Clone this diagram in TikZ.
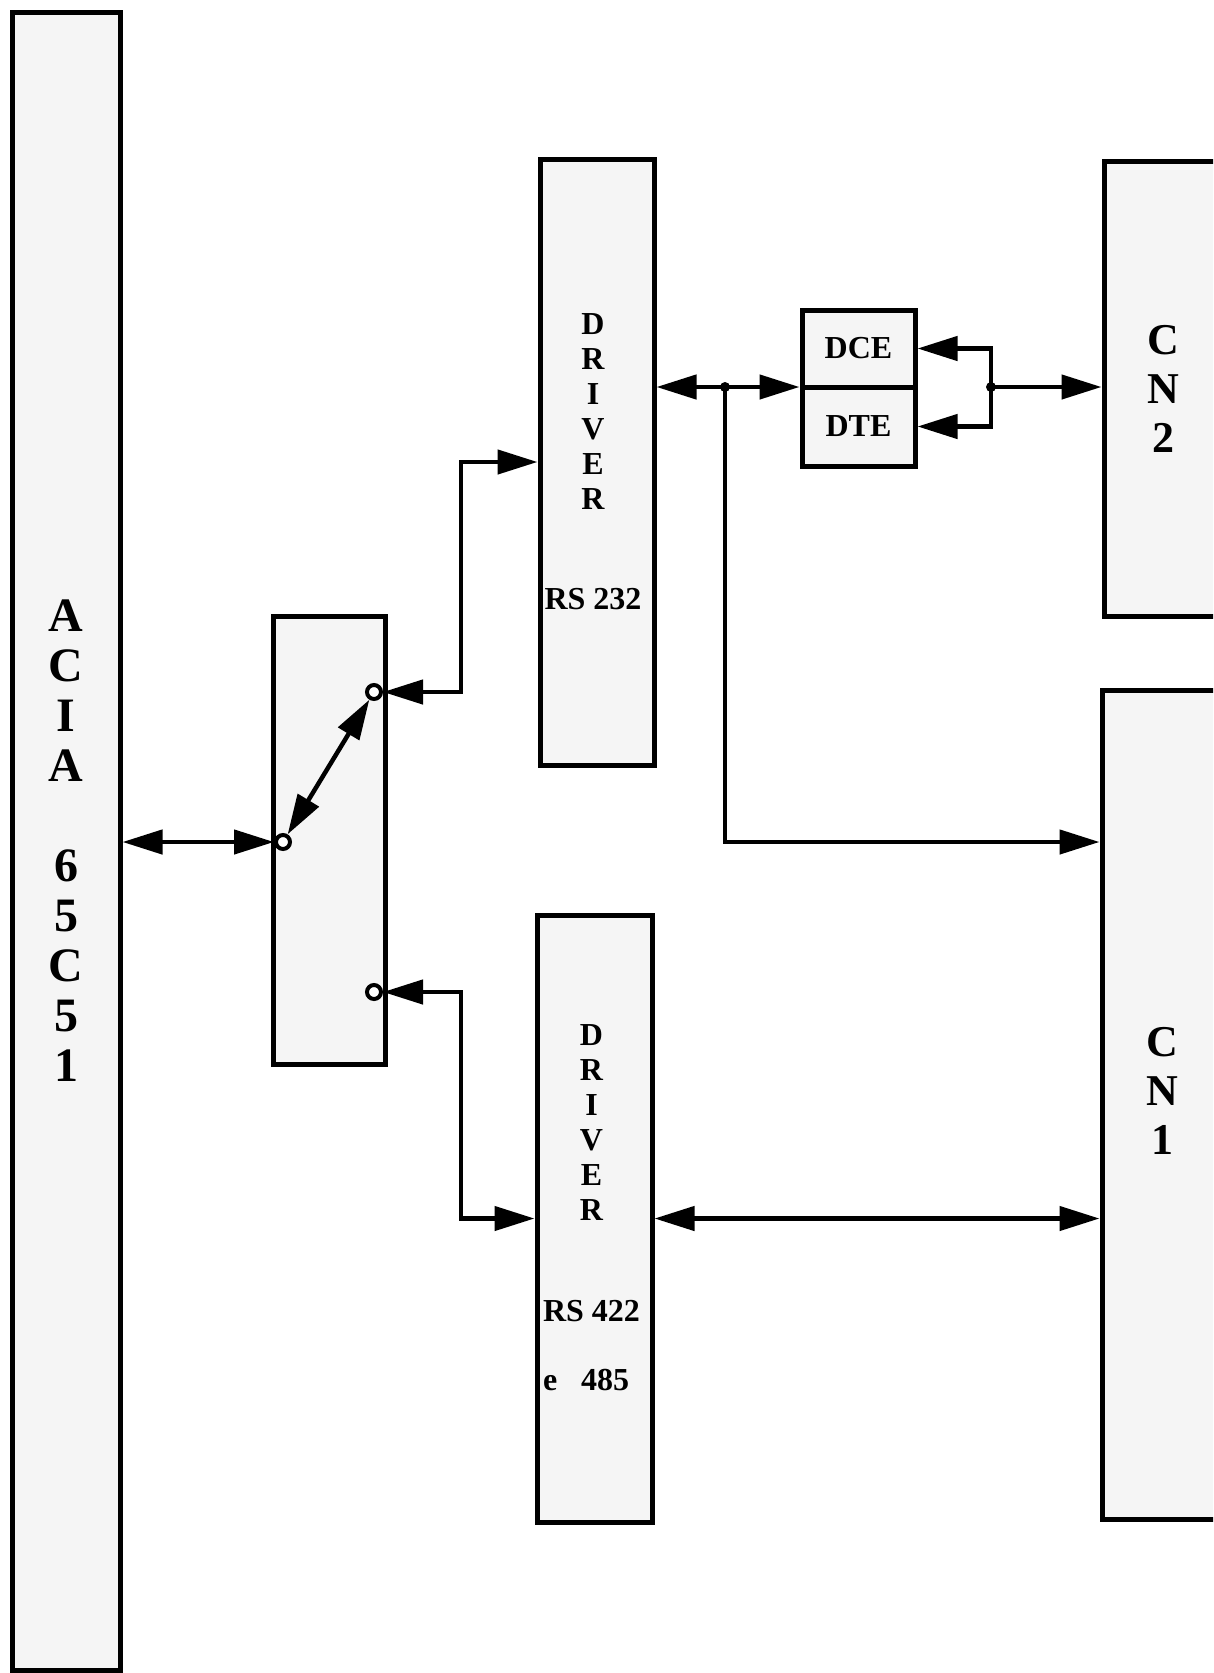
\documentclass[tikz,border=0pt]{standalone}
\usepackage{fontspec}
\setmainfont{Liberation Serif}
\usetikzlibrary{arrows.meta, positioning}

\begin{document}
\begin{tikzpicture}[
    x=1pt, y=-1pt,
    box/.style={
        draw, rectangle, fill=black!4,
        align=center, inner sep=0pt,
        line width=5pt
    },
    txtA/.style={font=\fontsize{32}{35}\selectfont\bfseries, align=center},
    txtB/.style={font=\fontsize{48}{50}\selectfont\bfseries},
    txtC/.style={font=\fontsize{44}{49}\selectfont\bfseries},
    contact/.style={
        draw, circle, fill=white, line width=4pt,
        minimum size=14pt, inner sep=0pt
    },
    arrow/.style={
        -{Triangle[length=40pt, width=24pt]},
        line width=4.5pt
    },
    dblarrow/.style={
        {Triangle[length=40pt, width=24pt]}-{Triangle[length=40pt, width=24pt]},
        line width=4.5pt
    }
]
\clip (0,0) rectangle (1213,1673);

% blocks
\node[box, txtB, minimum width=108pt, minimum height=1658pt] (acia) at (66,841)
    {A\\C\\I\\A\\[50pt]6\\5\\C\\5\\1};
\node[box, minimum width=112pt, minimum height=448pt] (sw) at (329,840) {};

\node[box, minimum width=114pt, minimum height=606pt] (drvA) at (597,462) {};
\node[txtA] at ([xshift=-4pt]drvA.center)
    {D\\R\\I\\V\\E\\R\\[65pt]RS 232};
\node[box, minimum width=115pt, minimum height=607pt] (drvB) at (594.5,1218.5) {};
\node[txtA] at ([xshift=-3pt, yshift=11pt]drvB.center)
    {D\\R\\I\\V\\E\\R\\[66pt]RS 422\\[34pt]\makebox[97pt][l]{e\hspace{24pt}485}};

\node[box, txtA, minimum width=113pt, minimum height=77pt] (dce) at (858.5,348.5) {DCE};
\node[box, txtA, minimum width=113pt, minimum height=79pt] (dte) at (858.5,426.5) {DTE};

\node[box, txtC, minimum width=118pt, minimum height=455pt] (cn2) at (1163,388.5)
    {C\\N\\2};
\node[box, minimum width=120pt, minimum height=829pt] (cn1) at (1162,1104.5) {};
\node[txtC, align=center] at ([yshift=14pt]cn1.center) {C\\N\\1};

% switch contacts
\node[contact] (pT) at (374,692) {};
\node[contact] (pL) at (283,842) {};
\node[contact] (pB) at (374,992) {};

% junctions and corners
\coordinate (kA) at (461,462);
\coordinate (kB) at (461,1218.5);
\coordinate (jA) at (725,387);
\coordinate (jB) at (991,387);

% connectors
\draw[dblarrow] (acia.east |- pL) -- (pL);
\draw[dblarrow] (pL) -- (pT);
\draw[dblarrow] (pT) -| (kA) -- (drvA.west);
\draw[dblarrow] (pB) -| (kB) -- (drvB.west);

\draw[dblarrow] (drvA.east |- jA) -- (dce.west |- jA);
\draw[arrow] (jA) |- (cn1.west |- pL);
\fill (jA) circle (5pt);

\draw[dblarrow] (dce.east) -| (jB) |- (dte.east);
\draw[arrow] (jB) -- (cn2.west |- jB);
\fill (jB) circle (5pt);

\draw[dblarrow] (drvB.east) -- (cn1.west |- drvB.east);

\end{tikzpicture}
\end{document}
